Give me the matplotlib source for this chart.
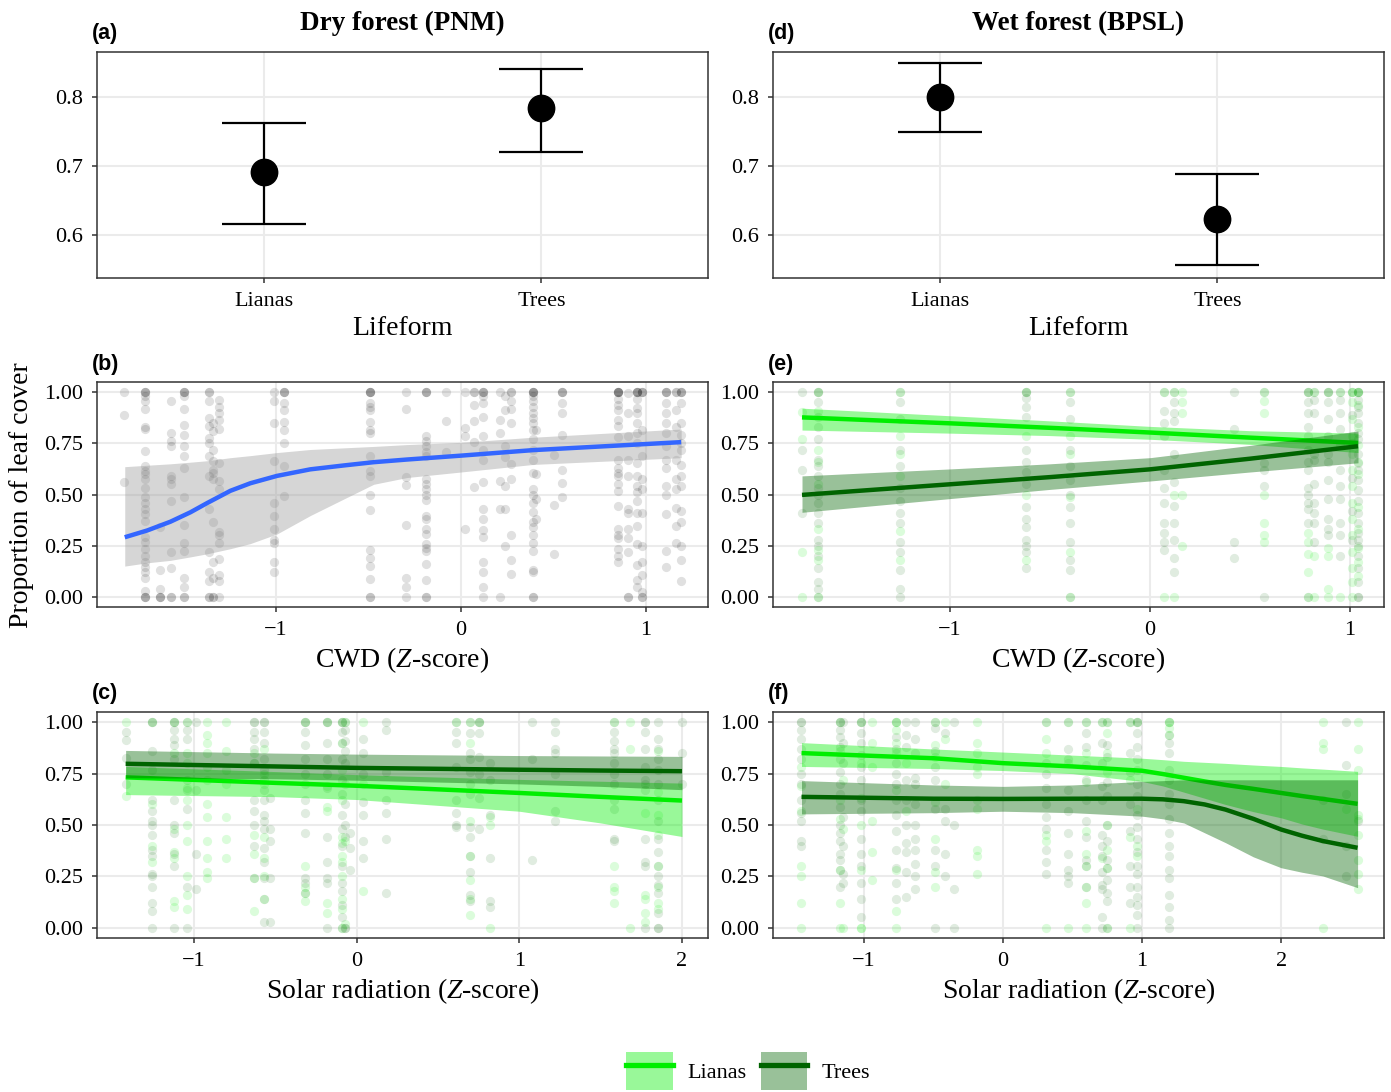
import matplotlib
matplotlib.use("Agg")
import matplotlib.pyplot as plt
from matplotlib.patches import Patch
from matplotlib.lines import Line2D
from matplotlib.legend_handler import HandlerTuple

plt.rcParams["font.family"] = ["Liberation Serif", "DejaVu Serif"]
plt.rcParams["mathtext.fontset"] = "custom"
plt.rcParams["mathtext.it"] = "Liberation Serif:italic"
plt.rcParams["mathtext.rm"] = "Liberation Serif"
plt.rcParams["axes.unicode_minus"] = True

LIANA_COL = "#00EE00"
TREE_COL = "#006400"
BLUE = "#3366FF"

# ---- top row: mean proportion of leaf cover by lifeform ----
lifeforms = ["Lianas", "Trees"]
dry_mean = [0.692, 0.785]
dry_lo = [0.615, 0.721]
dry_hi = [0.762, 0.841]
wet_mean = [0.801, 0.623]
wet_lo = [0.749, 0.556]
wet_hi = [0.850, 0.689]

# ---- (b) dry forest, CWD ----
b_x = [-1.82, -1.71, -1.63, -1.57, -1.50, -1.36, -1.34, -1.31, -1.01, -0.955,
       -0.49, -0.30, -0.19, -0.08, 0.02, 0.07, 0.12, 0.21, 0.24, 0.27, 0.39,
       0.405, 0.50, 0.545, 0.85, 0.90, 0.95, 0.98, 1.11, 1.16, 1.19]
b_y = [
    [1.0, 0.89, 0.56],
    [1, 1, 1, 0.98, 0.955, 0.92, 0.83, 0.82, 0.715, 0.64, 0.615, 0.60, 0.575, 0.53,
     0.49, 0.46, 0.43, 0.405, 0.37, 0.29, 0.27, 0.235, 0.20, 0.17, 0.145, 0.12,
     0.09, 0.03, 0, 0, 0],
    [0.34, 0.13, 0.04, 0, 0, 0],
    [0.955, 0.80, 0.76, 0.735, 0.59, 0.575, 0.55, 0.47, 0.22, 0.14, 0, 0],
    [1, 1, 1, 0.98, 0.92, 0.84, 0.79, 0.735, 0.69, 0.63, 0.49, 0.35, 0.265, 0.225,
     0.09, 0.05, 0, 0],
    [1, 1, 0.955, 0.875, 0.835, 0.775, 0.75, 0.69, 0.59, 0.43, 0.22, 0.12, 0.075, 0, 0],
    [0.85, 0.81, 0.72, 0.665, 0.62, 0.605, 0.575, 0.365, 0.17, 0.09, 0, 0],
    [0.96, 0.93, 0.90, 0.865, 0.82, 0.655, 0.565, 0.525, 0.315, 0.30, 0.265, 0.185,
     0.105, 0.075, 0],
    [1, 0.955, 0.85, 0.665, 0.46, 0.395, 0.33, 0.28, 0.265, 0.17, 0.12],
    [1, 1, 1, 0.945, 0.915, 0.855, 0.815, 0.75, 0.64, 0.495],
    [1, 1, 1, 1, 0.945, 0.93, 0.915, 0.855, 0.815, 0.80, 0.69, 0.615, 0.59, 0.50,
     0.425, 0.23, 0.19, 0.15, 0.085, 0, 0],
    [1, 0.92, 0.585, 0.545, 0.35, 0.09, 0.05, 0],
    [1, 1, 1, 0.785, 0.76, 0.735, 0.71, 0.69, 0.575, 0.55, 0.525, 0.50, 0.475, 0.395,
     0.38, 0.33, 0.305, 0.26, 0.24, 0.225, 0.16, 0.08, 0, 0],
    [1, 0.86, 0.71],
    [1, 0.825, 0.785, 0.33],
    [1, 1, 0.94, 0.86, 0.755, 0.535],
    [1, 1, 1, 0.98, 0.945, 0.88, 0.785, 0.72, 0.67, 0.56, 0.43, 0.38, 0.325, 0.29,
     0.17, 0.12, 0.05, 0],
    [1, 0.865, 0.80, 0.565, 0.43, 0],
    [0.98, 0.915, 0.735, 0.685, 0.54, 0.43, 0.25],
    [1, 1, 0.955, 0.92, 0.85, 0.65, 0.575, 0.30, 0.18, 0.11],
    [1, 1, 1, 1, 0.98, 0.955, 0.93, 0.90, 0.875, 0.85, 0.815, 0.77, 0.72, 0.67,
     0.605, 0.525, 0.50, 0.46, 0.415, 0.365, 0.34, 0.30, 0.265, 0.225, 0.13, 0.12, 0, 0],
    [0.815, 0.60, 0.48, 0.38],
    [0.695, 0.45, 0.21],
    [1, 1, 1, 0.945, 0.90, 0.79, 0.62, 0.555, 0.49],
    [1, 1, 1, 1, 1, 0.965, 0.94, 0.915, 0.865, 0.835, 0.78, 0.67, 0.63, 0.605, 0.59,
     0.55, 0.515, 0.445, 0.33, 0.30, 0.285, 0.235, 0.20, 0.17],
    [0.995, 0.90, 0.785, 0.67, 0.59, 0.43, 0.41, 0.33, 0.285, 0.22, 0, 0],
    [1, 1, 1, 1, 0.965, 0.925, 0.90, 0.85, 0.80, 0.752, 0.655, 0.59, 0.54, 0.51,
     0.47, 0.41, 0.345, 0.26, 0.155, 0.08, 0.05],
    [1, 1, 1, 0.815, 0.69, 0.575, 0.525, 0.41, 0.25, 0.17, 0.105, 0.025, 0, 0],
    [1, 1, 1, 0.945, 0.90, 0.85, 0.80, 0.735, 0.67, 0.63, 0.54, 0.50, 0.405, 0.225, 0.145],
    [1, 1, 0.915, 0.83, 0.67, 0.575, 0.525, 0.435, 0.345, 0.265],
    [1, 1, 1, 0.945, 0.85, 0.79, 0.75, 0.72, 0.645, 0.59, 0.54, 0.42, 0.365, 0.25,
     0.18, 0.075],
]
b_fit_x = [-1.818, -1.697, -1.571, -1.463, -1.373, -1.247, -1.139, -0.995, -0.815,
           -0.634, -0.472, -0.292, 0.0, 0.39, 1.19]
b_fit = [0.291, 0.324, 0.367, 0.413, 0.458, 0.518, 0.555, 0.591, 0.623,
         0.642, 0.658, 0.671, 0.69, 0.717, 0.756]
b_fit_hi = [0.636, 0.643, 0.65, 0.658, 0.665, 0.68, 0.69, 0.705, 0.72,
            0.728, 0.735, 0.744, 0.755, 0.78, 0.82]
b_fit_lo = [0.15, 0.166, 0.178, 0.195, 0.21, 0.235, 0.26, 0.307, 0.397,
            0.478, 0.55, 0.583, 0.61, 0.647, 0.68]

# ---- (e) wet forest, CWD ----
e_x = [-1.74, -1.66, -1.25, -0.62, -0.40, 0.07, 0.12, 0.16, 0.42, 0.57, 0.79,
       0.82, 0.89, 0.95, 1.01, 1.04]
e_lianas = [
    [0.905, 0.77, 0.22, 0.0],
    [1, 0.91, 0.72, 0.66, 0.55, 0.33, 0.23, 0.18, 0],
    [1, 0.785, 0.70, 0.59, 0.32, 0.18],
    [1, 0.785, 0.50, 0.18],
    [1, 0.785, 0.70, 0.49, 0.22, 0],
    [1, 0.0],
    [1, 0.50, 0.0],
    [1, 0.95, 0.90, 0.50, 0.25],
    [],
    [1, 0.955, 0.90, 0.50, 0.36, 0.30, 0.27],
    [1, 0.31, 0.27, 0.21, 0.12, 0],
    [1, 0.20, 0.0],
    [1, 0.24, 0.20, 0.04, 0],
    [1, 0],
    [1, 1, 0.95, 0.87, 0.785, 0.70, 0.62, 0.54, 0.46, 0.38, 0.30, 0.22, 0.14, 0.07, 0],
    [1, 1, 0.94, 0.83, 0.74, 0.66, 0.60, 0.44, 0.33, 0.24, 0.17, 0.10],
]
e_trees = [
    [1.0, 0.72, 0.62, 0.41],
    [1, 1, 0.95, 0.88, 0.83, 0.77, 0.67, 0.64, 0.59, 0.53, 0.50, 0.46, 0.41, 0.36,
     0.28, 0.25, 0.20, 0.14, 0.07, 0.04, 0],
    [1, 0.95, 0.87, 0.72, 0.64, 0.53, 0.47, 0.41, 0.36, 0.27, 0.22, 0.13, 0.04, 0],
    [1, 1, 0.97, 0.93, 0.88, 0.72, 0.66, 0.61, 0.55, 0.44, 0.38, 0.34, 0.28, 0.25,
     0.22, 0.14],
    [1, 0.95, 0.87, 0.72, 0.64, 0.57, 0.50, 0.44, 0.36, 0.27, 0.18, 0.13, 0.0],
    [1, 0.91, 0.85, 0.785, 0.62, 0.53, 0.46, 0.36, 0.31, 0.27, 0.23],
    [1, 0.95, 0.90, 0.86, 0.70, 0.56, 0.445, 0.36, 0.28, 0.19, 0.12],
    [],
    [1, 0.82, 0.27, 0.19],
    [1, 0.655, 0.62, 0.54, 0.0],
    [1, 1, 0.95, 0.90, 0.83, 0.785, 0.72, 0.66, 0.62, 0.53, 0.50, 0.46, 0.43, 0.36, 0.0],
    [1, 0.96, 0.90, 0.70, 0.67, 0.55, 0.46, 0.41, 0.36, 0.27],
    [1, 1, 0.95, 0.87, 0.785, 0.70, 0.66, 0.57, 0.48, 0.38, 0.33, 0.30],
    [1, 0.96, 0.90, 0.82, 0.74, 0.62, 0.54, 0.48, 0.36, 0.30, 0.20],
    [1, 0.89, 0.75, 0.58, 0.42, 0.28],
    [1, 1, 0.96, 0.93, 0.90, 0.85, 0.80, 0.77, 0.70, 0.655, 0.62, 0.57, 0.52, 0.47,
     0.41, 0.36, 0.31, 0.28, 0.25, 0.20, 0.14, 0.07, 0, 0],
]
e_fit_x = [-1.74, -1.0, -0.5, 0.0, 0.5, 1.04]
e_lianas_fit = [0.877, 0.848, 0.826, 0.803, 0.778, 0.752]
e_lianas_lo = [0.815, 0.80, 0.788, 0.77, 0.745, 0.705]
e_lianas_hi = [0.922, 0.885, 0.86, 0.833, 0.812, 0.80]
e_trees_fit = [0.498, 0.55, 0.585, 0.623, 0.675, 0.736]
e_trees_lo = [0.413, 0.48, 0.525, 0.566, 0.61, 0.655]
e_trees_hi = [0.591, 0.625, 0.65, 0.68, 0.74, 0.81]

# ---- (c) dry forest, solar radiation ----
c_x = [-1.42, -1.26, -1.12, -1.04, -0.99, -0.92, -0.80, -0.63, -0.57, -0.53,
       -0.32, -0.18, -0.09, -0.07, -0.04, 0.04, 0.18, 0.61, 0.70, 0.75, 0.82,
       1.08, 1.22, 1.58, 1.68, 1.77, 1.85, 2.0]
c_lianas = [
    [1.0, 0.64],
    [1, 0.60, 0.40, 0.32],
    [1, 0.85, 0.48, 0.37, 0.34, 0.13, 0.10],
    [1, 0.85, 0.80, 0.68, 0.62, 0.50, 0.42, 0.25, 0.16, 0.09],
    [],
    [1, 0.94, 0.90, 0.85, 0.78, 0.72, 0.60, 0.54, 0.42, 0.34, 0.27, 0.24],
    [1, 0.86, 0.77, 0.70, 0.54, 0.43, 0.34],
    [0.85, 0.80, 0.45, 0.36, 0.24, 0.08],
    [0.87, 0.75, 0.70, 0.44, 0.34, 0.25, 0.14],
    [],
    [1, 0.30, 0.20, 0.17, 0.13],
    [1, 0.69, 0.59, 0.57, 0.12, 0.07],
    [1, 0.90, 0.77, 0.62, 0.44, 0.41, 0.35, 0.32, 0.25, 0.14, 0.09, 0],
    [1, 0.42, 0.02],
    [],
    [1, 0.70, 0.18],
    [],
    [1],
    [1, 0.90, 0.52, 0.35, 0.23, 0.14, 0.06],
    [1],
    [0.54, 0.50, 0.0],
    [],
    [],
    [1, 0.30, 0.20, 0.18, 0.12],
    [1, 0.87, 0.0],
    [0.56, 0.16, 0.14, 0.07, 0.03],
    [0.86, 0.66, 0.55, 0.45, 0.30, 0.20, 0.12, 0.09],
    [],
]
c_trees = [
    [0.955, 0.915, 0.825, 0.70],
    [1, 1, 0.86, 0.77, 0.62, 0.57, 0.52, 0.50, 0.45, 0.38, 0.35, 0.26, 0.25, 0.20,
     0.12, 0.08, 0.0],
    [1, 1, 0.96, 0.92, 0.89, 0.82, 0.62, 0.50, 0.46, 0.36, 0.30, 0.0],
    [1, 0.96, 0.92, 0.72, 0.67, 0.58, 0.20, 0],
    [1, 0.67, 0.36, 0.19],
    [],
    [],
    [1, 1, 0.955, 0.92, 0.87, 0.80, 0.62, 0.57, 0.50, 0.40, 0.24],
    [1, 1, 0.955, 0.90, 0.82, 0.77, 0.72, 0.67, 0.62, 0.55, 0.52, 0.48, 0.39, 0.32,
     0.24, 0.14, 0.03],
    [0.63, 0.48, 0.42, 0.24, 0.03],
    [1, 1, 0.955, 0.89, 0.82, 0.75, 0.70, 0.62, 0.56, 0.46, 0.24, 0.22, 0.17],
    [1, 1, 0.90, 0.82, 0.75, 0.68, 0.44, 0.32, 0.24, 0.22, 0],
    [1, 1, 0.955, 0.90, 0.82, 0.72, 0.65, 0.55, 0.48, 0.40, 0.30, 0.22, 0.18, 0.11,
     0.05, 0],
    [1, 0.96, 0.91, 0.86, 0.80, 0.70, 0.60, 0.50, 0.44, 0.0, 0.0],
    [0.46, 0.39, 0.28],
    [0.92, 0.85, 0.75, 0.61, 0.55, 0.42, 0.34],
    [1, 0.96, 0.76, 0.62, 0.56, 0.43, 0.17],
    [1, 0.955, 0.90, 0.78, 0.62, 0.56, 0.50, 0.49],
    [1, 0.95, 0.85, 0.82, 0.76, 0.70, 0.65, 0.49, 0.44, 0.35, 0.27, 0.16, 0.13],
    [1, 1, 0.95, 0.83, 0.75, 0.63, 0.48],
    [0.80, 0.72, 0.55, 0.34, 0.13, 0.10],
    [1, 0.82, 0.33],
    [1, 0.955, 0.87, 0.85, 0.75, 0.57, 0.52],
    [1, 0.955, 0.91, 0.87, 0.85, 0.80, 0.75, 0.70, 0.62, 0.58, 0.43, 0.42],
    [],
    [1, 1, 0.955, 0.87, 0.78, 0.72, 0.70, 0.67, 0.43, 0.32, 0.30, 0.0],
    [1, 0.92, 0.87, 0.82, 0.77, 0.70, 0.62, 0.52, 0.43, 0.37, 0.30, 0.25, 0.21, 0.17,
     0.07, 0.0, 0.0],
    [1, 0.85, 0.70],
]
c_fit_x = [-1.42, -0.5, 0.0, 1.0, 1.5, 2.0]
c_lianas_fit = [0.732, 0.705, 0.691, 0.656, 0.637, 0.619]
c_lianas_lo = [0.648, 0.638, 0.624, 0.567, 0.51, 0.444]
c_lianas_hi = [0.785, 0.76, 0.745, 0.722, 0.713, 0.704]
c_trees_fit = [0.798, 0.785, 0.778, 0.769, 0.765, 0.762]
c_trees_lo = [0.73, 0.725, 0.718, 0.70, 0.688, 0.672]
c_trees_hi = [0.863, 0.85, 0.845, 0.838, 0.836, 0.834]

# ---- (f) wet forest, solar radiation ----
f_x = [-1.45, -1.17, -1.15, -1.02, -0.94, -0.77, -0.70, -0.63, -0.49, -0.42,
       -0.35, -0.19, 0.31, 0.47, 0.60, 0.71, 0.75, 0.91, 0.96, 1.19, 2.30, 2.47, 2.55]
f_lianas = [
    [0.78, 0.69, 0.57, 0.30, 0.25, 0.12, 0],
    [1, 0.86, 0.62, 0.53, 0.28, 0.12, 0],
    [0.72, 0.48, 0.0],
    [1, 0.80, 0.63, 0.50, 0.28, 0.0, 0.0],
    [1, 0.90, 0.78, 0.52, 0.37, 0.23],
    [1, 1, 0.96, 0.90, 0.85, 0.67, 0.28, 0.08, 0.0],
    [0.80, 0.57],
    [],
    [1, 0.89, 0.83, 0.61, 0.43, 0.27, 0.20],
    [1, 0.92, 0.70],
    [],
    [1, 0.90, 0.85, 0.78, 0.75, 0.62, 0.58, 0.38, 0.35, 0.26],
    [1, 0.92, 0.85, 0.45, 0.42, 0.0],
    [1, 0.80, 0.0],
    [1, 0.85, 0.71, 0.47, 0.36, 0.30, 0.20, 0.12, 0.0],
    [1, 0.34],
    [1, 0.95, 0.85, 0.76, 0.50, 0.38, 0.29, 0.0],
    [1, 0.72, 0.44, 0.0],
    [1, 0.58, 0.40, 0.35],
    [1, 1, 0.97, 0.94],
    [1, 0.90, 0.87, 0.0],
    [0.58],
    [1, 0.87, 0.77, 0.55, 0.53, 0.45, 0.33, 0.26, 0.19],
]
f_trees = [
    [1, 1, 0.96, 0.92, 0.87, 0.82, 0.75, 0.70, 0.62, 0.56, 0.52, 0.42, 0.40],
    [1, 1, 0.96, 0.93, 0.88, 0.82, 0.76, 0.70, 0.65, 0.59, 0.50, 0.46, 0.42, 0.36,
     0.33, 0.28, 0.20],
    [1, 0.90, 0.80, 0.54, 0.40, 0.26, 0.22],
    [1, 1, 0.95, 0.90, 0.84, 0.78, 0.72, 0.62, 0.57, 0.43, 0.36, 0.30, 0.22, 0.14, 0.05],
    [],
    [1, 0.93, 0.87, 0.80, 0.75, 0.70, 0.62, 0.55, 0.47, 0.38, 0.29, 0.22, 0.14],
    [1, 0.94, 0.88, 0.72, 0.62, 0.50, 0.41, 0.37, 0.27, 0.15],
    [1, 0.92, 0.85, 0.73, 0.70, 0.60, 0.50, 0.43, 0.38, 0.31, 0.25, 0.19],
    [1, 0.97, 0.86, 0.78, 0.72, 0.58, 0.38, 0.30, 0.0],
    [0.95, 0.58, 0.52, 0.36, 0.25],
    [1, 0.50, 0.19, 0.0],
    [],
    [1, 0.80, 0.75, 0.68, 0.60, 0.54, 0.48, 0.38, 0.32, 0.26],
    [1, 0.87, 0.82, 0.67, 0.57, 0.46, 0.36, 0.28, 0.25, 0.22],
    [1, 0.95, 0.88, 0.79, 0.72, 0.62, 0.52, 0.44, 0.33, 0.30, 0.20],
    [1, 0.90, 0.80, 0.69, 0.62, 0.45, 0.40, 0.35, 0.27, 0.21, 0.19, 0.05, 0.0],
    [1, 0.89, 0.83, 0.71, 0.64, 0.50, 0.42, 0.33, 0.29, 0.23, 0.17, 0.13, 0.0],
    [1, 0.85, 0.76, 0.60, 0.47, 0.30, 0.20, 0.12],
    [1, 1, 0.95, 0.88, 0.82, 0.77, 0.70, 0.64, 0.55, 0.49, 0.43, 0.37, 0.30, 0.26,
     0.20, 0.15, 0.11, 0.06, 0.0],
    [1, 0.94, 0.90, 0.85, 0.77, 0.72, 0.65, 0.60, 0.53, 0.46, 0.40, 0.35, 0.28, 0.24,
     0.16, 0.10, 0.04, 0.0],
    [0.62, 0.43],
    [1, 0.79, 0.65, 0.40, 0.25],
    [0.52],
]
f_fit_x = [-1.45, -0.5, 0.0, 0.5, 1.0, 1.15, 1.3, 1.45, 1.6, 1.8, 2.0, 2.15, 2.3, 2.55]
f_lianas_fit = [0.850, 0.825, 0.801, 0.785, 0.764, 0.748, 0.73, 0.712, 0.695, 0.676,
                0.656, 0.641, 0.627, 0.603]
f_lianas_lo = [0.785, 0.775, 0.765, 0.75, 0.712, 0.69, 0.66, 0.63, 0.60, 0.565,
               0.535, 0.505, 0.48, 0.445]
f_lianas_hi = [0.901, 0.87, 0.855, 0.84, 0.825, 0.818, 0.81, 0.805, 0.80, 0.792,
               0.785, 0.778, 0.772, 0.761]
f_trees_fit = [0.637, 0.628, 0.627, 0.628, 0.628, 0.625, 0.616, 0.60, 0.575, 0.53,
               0.478, 0.448, 0.422, 0.389]
f_trees_lo = [0.554, 0.56, 0.567, 0.56, 0.543, 0.53, 0.51, 0.462, 0.414, 0.345,
              0.292, 0.27, 0.252, 0.195]
f_trees_hi = [0.716, 0.695, 0.688, 0.695, 0.712, 0.716, 0.72, 0.72, 0.72, 0.72,
              0.72, 0.72, 0.72, 0.72]


def style_axes(ax):
    ax.set_facecolor("white")
    ax.grid(True, color="#EBEBEB", linewidth=1.5)
    ax.set_axisbelow(True)
    for sp in ax.spines.values():
        sp.set_color("#333333")
        sp.set_linewidth(1.1)
    ax.tick_params(direction="out", length=3.5, width=1.1, color="#333333",
                   labelsize=16, labelcolor="black", pad=6.5)


def add_tag(ax, tag):
    ax.text(-0.008, 1.08, tag, transform=ax.transAxes, ha="left", va="center",
            fontsize=15.5, fontweight="bold", family=["Liberation Sans", "DejaVu Sans"])


def scatter_columns(ax, xs, cols, color, alpha):
    px = [x for x, ys in zip(xs, cols) for _ in ys]
    py = [y for ys in cols for y in ys]
    ax.scatter(px, py, s=44, color=color, alpha=alpha, linewidths=0, zorder=2)


def smooth(ax, xs, fit, lo, hi, color, fill=None):
    ax.fill_between(xs, lo, hi, color=fill or color, alpha=0.4, linewidth=0, zorder=3)
    ax.plot(xs, fit, color=color, linewidth=3.2, solid_capstyle="butt",
            solid_joinstyle="round", zorder=3)


def lifeform_panel(ax, mean, lo, hi, title, tag):
    style_axes(ax)
    pos = [1, 2]
    yerr = [[m - l for m, l in zip(mean, lo)], [h - m for m, h in zip(mean, hi)]]
    ax.errorbar(pos, mean, yerr=yerr, fmt="o", color="black", markersize=19,
                elinewidth=1.6, capsize=30, capthick=1.6, zorder=3)
    ax.set_xlim(0.4, 2.6)
    ax.set_ylim(0.537, 0.866)
    ax.set_xticks(pos)
    ax.set_xticklabels(lifeforms)
    ax.set_yticks([0.6, 0.7, 0.8])
    ax.set_yticklabels(["0.6", "0.7", "0.8"])
    ax.set_xlabel("Lifeform", fontsize=20, labelpad=4)
    ax.text(0.5, 1.125, title, transform=ax.transAxes, ha="center", va="center",
            fontsize=19.5, fontweight="bold")
    add_tag(ax, tag)


def prop_axes(ax, xlim, xticks, xlabel, tag):
    style_axes(ax)
    ax.set_xlim(*xlim)
    ax.set_ylim(-0.05, 1.05)
    ax.set_xticks(xticks)
    ax.set_xticklabels([f"{t:d}".replace("-", "\u2212") for t in xticks])
    ax.set_yticks([0, 0.25, 0.5, 0.75, 1.0])
    ax.set_yticklabels(["0.00", "0.25", "0.50", "0.75", "1.00"])
    ax.set_xlabel(xlabel, fontsize=20, labelpad=4)
    add_tag(ax, tag)


fig = plt.figure(figsize=(13.91, 10.92), dpi=100)
W = 611 / 1391
lx, rx = 97 / 1391, 773 / 1391
row1 = (1 - 278 / 1092, 226 / 1092)
row2 = (1 - 607 / 1092, 225 / 1092)
row3 = (1 - 938 / 1092, 226 / 1092)

ax_a = fig.add_axes([lx, row1[0], W, row1[1]])
ax_d = fig.add_axes([rx, row1[0], W, row1[1]])
ax_b = fig.add_axes([lx, row2[0], W, row2[1]])
ax_e = fig.add_axes([rx, row2[0], W, row2[1]])
ax_c = fig.add_axes([lx, row3[0], W, row3[1]])
ax_f = fig.add_axes([rx, row3[0], W, row3[1]])

lifeform_panel(ax_a, dry_mean, dry_lo, dry_hi, "Dry forest (PNM)", "(a)")
lifeform_panel(ax_d, wet_mean, wet_lo, wet_hi, "Wet forest (BPSL)", "(d)")

cwd_label = "CWD ($Z$-score)"
sol_label = "Solar radiation ($Z$-score)"

# (b)
prop_axes(ax_b, (-1.968, 1.335), [-1, 0, 1], cwd_label, "(b)")
scatter_columns(ax_b, b_x, b_y, "black", 0.12)
smooth(ax_b, b_fit_x, b_fit, b_fit_lo, b_fit_hi, BLUE, fill="#999999")

# (e)
prop_axes(ax_e, (-1.885, 1.17), [-1, 0, 1], cwd_label, "(e)")
scatter_columns(ax_e, e_x, e_lianas, LIANA_COL, 0.14)
scatter_columns(ax_e, e_x, e_trees, TREE_COL, 0.12)
smooth(ax_e, e_fit_x, e_lianas_fit, e_lianas_lo, e_lianas_hi, LIANA_COL)
smooth(ax_e, e_fit_x, e_trees_fit, e_trees_lo, e_trees_hi, TREE_COL)

# (c)
prop_axes(ax_c, (-1.596, 2.16), [-1, 0, 1, 2], sol_label, "(c)")
scatter_columns(ax_c, c_x, c_lianas, LIANA_COL, 0.14)
scatter_columns(ax_c, c_x, c_trees, TREE_COL, 0.12)
smooth(ax_c, c_fit_x, c_lianas_fit, c_lianas_lo, c_lianas_hi, LIANA_COL)
smooth(ax_c, c_fit_x, c_trees_fit, c_trees_lo, c_trees_hi, TREE_COL)

# (f)
prop_axes(ax_f, (-1.655, 2.74), [-1, 0, 1, 2], sol_label, "(f)")
scatter_columns(ax_f, f_x, f_lianas, LIANA_COL, 0.14)
scatter_columns(ax_f, f_x, f_trees, TREE_COL, 0.12)
smooth(ax_f, f_fit_x, f_lianas_fit, f_lianas_lo, f_lianas_hi, LIANA_COL)
smooth(ax_f, f_fit_x, f_trees_fit, f_trees_lo, f_trees_hi, TREE_COL)

fig.text(22 / 1391, 1 - 495 / 1092, "Proportion of leaf cover", rotation=90,
         ha="center", va="center", fontsize=20)

# legend at bottom: filled key with the fit line drawn over it
handles = [
    (Patch(facecolor=LIANA_COL, alpha=0.4, edgecolor="none"),
     Line2D([], [], color=LIANA_COL, linewidth=3.8)),
    (Patch(facecolor=TREE_COL, alpha=0.4, edgecolor="none"),
     Line2D([], [], color=TREE_COL, linewidth=3.8)),
]
fig.legend(handles, ["Lianas", "Trees"],
           handler_map={tuple: HandlerTuple(ndivide=1, pad=0)},
           loc="center", bbox_to_anchor=(748 / 1391, 1 - 1071 / 1092), ncol=2,
           frameon=False, fontsize=16, handlelength=2.1, handleheight=2.3,
           handletextpad=0.65, columnspacing=0.65, borderaxespad=0, borderpad=0)

fig.savefig("out.png", dpi=100)
